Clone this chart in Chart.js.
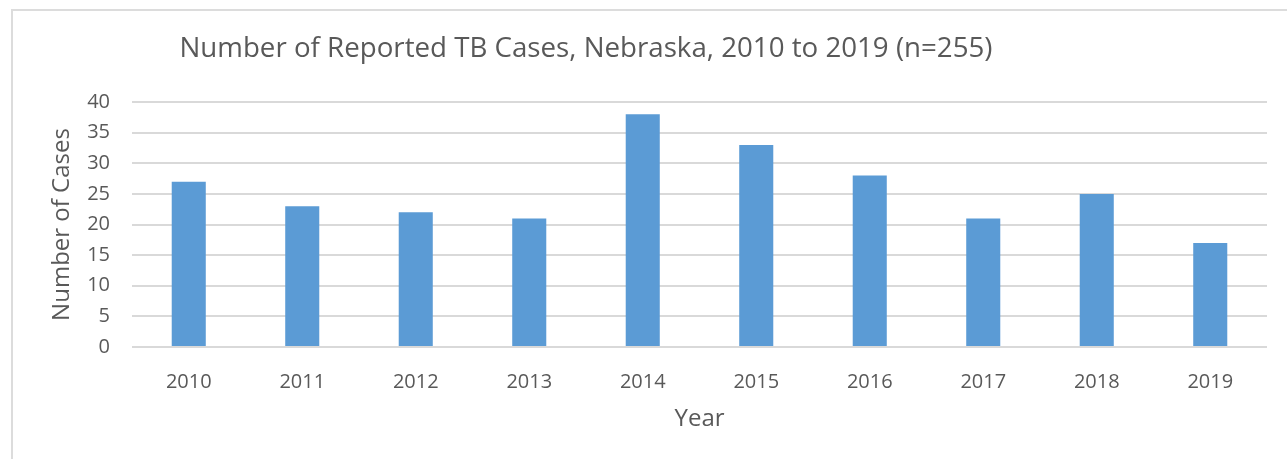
<!DOCTYPE html>
<html>
<head>
<meta charset="utf-8">
<script src="https://cdn.jsdelivr.net/npm/chart.js@4"></script>
<style>
  body { margin: 0; background: #ffffff; overflow: hidden; }
  #frame { position: absolute; left: 11px; top: 9px; width: 1400px; height: 500px; border: 2px solid #dcdcdc; }
  #wrap { position: absolute; left: 0; top: 0; width: 1287px; height: 459px; }
</style>
</head>
<body>
<div id="frame"></div>
<div id="wrap"><canvas id="myChart" width="1287" height="459"></canvas></div>
<script>
var years = ["2010", "2011", "2012", "2013", "2014", "2015", "2016", "2017", "2018", "2019"];
var cases = [27, 23, 22, 21, 38, 33, 28, 21, 25, 17];
var yTicks = [0, 5, 10, 15, 20, 25, 30, 35, 40];
var chartTitle = "Number of Reported TB Cases, Nebraska, 2010 to 2019 (n=255)";

window.onload = function()
{
    var ctx = document.getElementById("myChart").getContext("2d");
    var textColor = '#595959';
    var fontName = "'Open Sans', sans-serif";

    // title drawn at the same spot as in the original (left of centre)
    var titlePlugin =
    {
        id: 'leftTitle',
        afterDraw: function(chart)
        {
            var c = chart.ctx;
            c.save();
            c.font = "27.7px " + fontName;
            c.fillStyle = textColor;
            c.textAlign = 'center';
            c.textBaseline = 'alphabetic';
            c.fillText(chartTitle, 586, 57);
            c.restore();
        }
    };

    var myChart = new Chart(ctx,
    {
        type: 'bar',
        data:
        {
            labels: years,
            datasets:
            [{
                label: 'Cases',
                data: cases,
                backgroundColor: '#5B9BD5',
                borderWidth: 0,
                barPercentage: 0.3,
                categoryPercentage: 1
            }]
        },
        options:
        {
            responsive: false,
            animation: false,
            layout:
            {
                padding: { left: 40, top: 102, right: 20, bottom: 25 }
            },
            plugins:
            {
                legend: { display: false },
                tooltip: { enabled: false }
            },
            scales:
            {
                x:
                {
                    grid: { display: false },
                    border: { display: false },
                    ticks:
                    {
                        color: textColor,
                        font: { family: fontName, size: 20 },
                        padding: 15,
                        maxRotation: 0
                    },
                    title:
                    {
                        display: true,
                        text: 'Year',
                        color: textColor,
                        font: { family: fontName, size: 24 },
                        padding: { top: 4, bottom: 0 }
                    },
                    afterFit: function(scale)
                    {
                        scale.height = 87;
                    }
                },
                y:
                {
                    min: 0,
                    max: 40,
                    afterBuildTicks: function(scale)
                    {
                        scale.ticks = yTicks.map(function(v)
                        {
                            return { value: v };
                        });
                    },
                    grid:
                    {
                        color: '#d9d9d9',
                        lineWidth: 2,
                        drawTicks: false
                    },
                    border: { display: false },
                    ticks:
                    {
                        color: textColor,
                        font: { family: fontName, size: 20 },
                        padding: 22
                    },
                    title:
                    {
                        display: true,
                        text: 'Number of Cases',
                        color: textColor,
                        font: { family: fontName, size: 24 },
                        padding: { top: 8, bottom: 0 }
                    },
                    afterFit: function(scale)
                    {
                        scale.width = 92;
                    }
                }
            }
        },
        plugins: [titlePlugin]
    });
};
</script>
</body>
</html>
